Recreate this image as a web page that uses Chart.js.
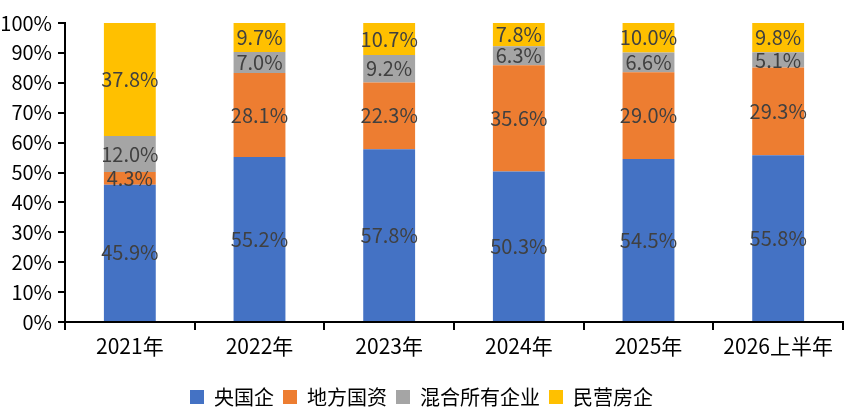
<!DOCTYPE html>
<html>
<head>
<meta charset="utf-8">
<script src="https://cdn.jsdelivr.net/npm/chart.js@4/dist/chart.umd.min.js"></script>
<style>
html,body{margin:0;padding:0;background:#fff;}
#wrap{width:853px;height:412px;position:relative;}
</style>
</head>
<body>
<div id="wrap"><canvas id="c" width="853" height="412"></canvas></div>
<script>
const categories = ['2021年','2022年','2023年','2024年','2025年','2026上半年'];
const seriesNames = ['央国企','地方国资','混合所有企业','民营房企'];
const central = [45.9, 55.2, 57.8, 50.3, 54.5, 55.8];
const local = [4.3, 28.1, 22.3, 35.6, 29.0, 29.3];
const mixed = [12.0, 7.0, 9.2, 6.3, 6.6, 5.1];
const privateCo = [37.8, 9.7, 10.7, 7.8, 10.0, 9.8];
const yTicks = [0,10,20,30,40,50,60,70,80,90,100];

const colors = ['#4472C4','#ED7D31','#A5A5A5','#FFC000'];
const NARROW = "'Liberation Sans Narrow', 'Noto Sans CJK SC', sans-serif";
const CJK = "'Noto Sans CJK SC', 'Liberation Sans', sans-serif";

const labelPlugin = {
  id: 'barLabels',
  afterDatasetsDraw(chart) {
    const ctx = chart.ctx;
    ctx.save();
    ctx.font = '20px ' + NARROW;
    ctx.fillStyle = '#404040';
    ctx.textAlign = 'center';
    ctx.textBaseline = 'middle';
    chart.data.datasets.forEach((ds, di) => {
      const meta = chart.getDatasetMeta(di);
      meta.data.forEach((bar, i) => {
        const v = ds.data[i];
        const yc = (bar.y + bar.base) / 2;
        ctx.fillText(v.toFixed(1) + '%', bar.x, yc);
      });
    });
    ctx.restore();
  }
};

const datasets = [central, local, mixed, privateCo].map((d, i) => ({
  label: seriesNames[i],
  data: d,
  backgroundColor: colors[i],
  borderWidth: 0,
  categoryPercentage: 1.0,
  barPercentage: 0.4
}));

new Chart(document.getElementById('c'), {
  type: 'bar',
  data: { labels: categories, datasets },
  plugins: [labelPlugin],
  options: {
    responsive: false,
    animation: false,
    devicePixelRatio: 1,
    layout: { padding: { top: 23, right: 10, left: 0, bottom: -5 } },
    plugins: {
      legend: {
        position: 'bottom',
        labels: {
          boxWidth: 14, boxHeight: 14, padding: 9,
          color: '#000',
          font: { family: CJK, size: 20 }
        }
      },
      tooltip: { enabled: false }
    },
    scales: {
      x: {
        stacked: true,
        grid: { display: true, drawOnChartArea: false, drawTicks: true, tickLength: 8, color: '#000', lineWidth: 2, offset: true },
        border: { display: true, color: '#000', width: 2 },
        ticks: { color: '#000', font: { family: NARROW, size: 21 }, padding: 3, maxRotation: 0 },
        afterFit(scale) { scale.height = 56; }
      },
      y: {
        stacked: true,
        min: 0, max: 100,
        afterBuildTicks(scale) { scale.ticks = yTicks.map(v => ({ value: v })); },
        grid: { display: true, drawOnChartArea: false, drawTicks: true, tickLength: 7, color: '#000', lineWidth: 2 },
        border: { display: true, color: '#000', width: 2 },
        ticks: { color: '#000', font: { family: NARROW, size: 20 }, padding: 6, callback: v => v + '%' },
        afterFit(scale) { scale.width = 65; }
      }
    }
  }
});
</script>
</body>
</html>
